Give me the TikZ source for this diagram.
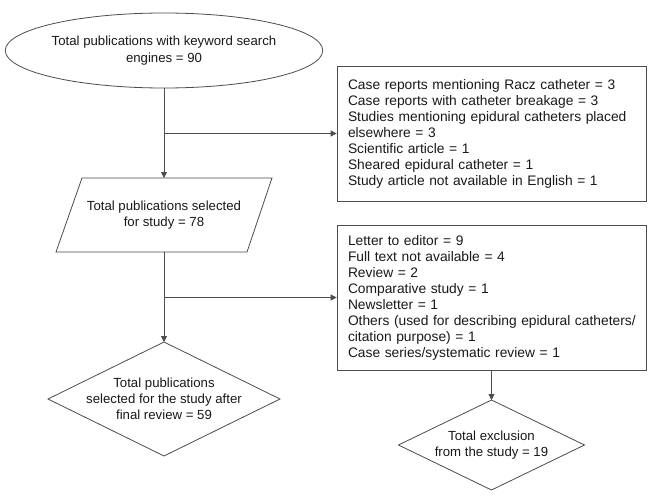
\documentclass[tikz,border=0pt]{standalone}
\usepackage{fontspec}
\setmainfont{Liberation Sans}
\usetikzlibrary{shapes.geometric,arrows.meta}
\begin{document}
\begin{tikzpicture}[x=1pt,y=-1pt,
  every node/.style={font=\fontsize{13.2}{16}\selectfont, text=black!90},
  line/.style={draw=black!70, line width=0.8pt},
  arr/.style={line, -{Triangle[length=6pt,width=6pt]}},
  listbox/.style={line, rectangle, minimum width=309pt, text width=287pt, align=left, inner sep=0pt,
    font=\fontsize{13.8}{16}\selectfont},
  txt/.style={align=center, inner sep=0pt}]
\useasboundingbox (0,0) rectangle (664,503);
\fill[white] (0,0) rectangle (664,503);

\node[line, ellipse, minimum width=302pt, minimum height=75pt, inner sep=0pt, align=center,
  font=\fontsize{13.2}{17.5}\selectfont] (ell) at (164,50.5)
  {Total publications with keyword search\\engines = 90};

\node[listbox, minimum height=135pt] (box1) at (491.5,133.5)
  {Case reports mentioning Racz catheter = 3\\
   Case reports with catheter breakage = 3\\
   \mbox{Studies mentioning epidural catheters placed}\\
   elsewhere = 3\\
   Scientific article = 1\\
   Sheared epidural catheter = 1\\
   Study article not available in English = 1};

\draw[line] (82,178) -- (272,178) -- (247,252) -- (56,252) -- cycle;
\node[txt] (par) at (164,215) {Total publications selected\\for study = 78};
\coordinate (partop) at (164,178);
\coordinate (parbot) at (164,252);

\node[listbox, minimum height=145pt] (box2) at (491.5,297.5)
  {Letter to editor = 9\\
   Full text not available = 4\\
   Review = 2\\
   Comparative study = 1\\
   Newsletter = 1\\
   \mbox{Others (used for describing epidural catheters/}\\
   citation purpose) = 1\\
   Case series/systematic review = 1};

\draw[line] (164,342) -- (280,399) -- (164,456) -- (48,399) -- cycle;
\node[txt] (dia1) at (164,399)
  {Total publications\\selected for the study after\\final review = 59};
\coordinate (dia1top) at (164,342);

\draw[line] (491.5,400) -- (584.5,445) -- (491.5,490) -- (398.5,445) -- cycle;
\node[txt] (dia2) at (491.5,445)
  {Total exclusion\\from the study = 19};
\coordinate (dia2top) at (491.5,400);

\draw[arr] (ell.south) -- (partop);
\draw[arr] (ell.south |- box1.west) -- (box1.west);
\draw[arr] (parbot) -- (dia1top);
\draw[arr] (parbot |- box2.west) -- (box2.west);
\draw[arr] (box2.south) -- (dia2top);
\end{tikzpicture}
\end{document}
